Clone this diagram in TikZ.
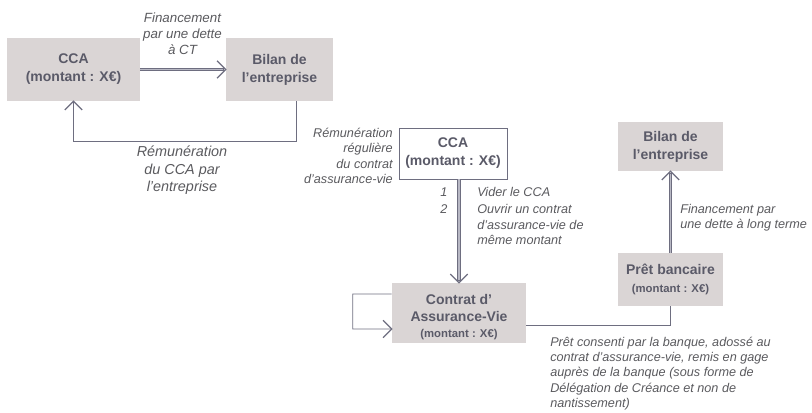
\documentclass[tikz,border=0pt]{standalone}
\usepackage{fontspec}
\setmainfont{Liberation Sans}

\definecolor{boxfill}{HTML}{DAD5D5}
\definecolor{boxtext}{HTML}{5A5A68}
\definecolor{labtext}{HTML}{5A5A5E}
\definecolor{linec}{HTML}{6E6E80}
\definecolor{linelight}{HTML}{B8B8C4}

\tikzset{
  box/.style={fill=boxfill, draw=none, text=boxtext, align=center, inner sep=0pt,
    font=\bfseries\fontsize{10.5}{13.5}\selectfont},
  whitebox/.style={box, fill=white, draw=linec, line width=0.6pt},
  lab/.style={text=labtext, inner sep=0pt, font=\itshape\fontsize{9.5}{11.5}\selectfont},
  biglab/.style={lab, font=\itshape\fontsize{10}{12}\selectfont},
  num/.style={text=labtext, inner sep=0pt, font=\itshape\fontsize{9.5}{11.5}\selectfont},
  plainline/.style={draw=linec, line width=0.6pt},
  dblshaft/.style={draw=linec, line width=2.4pt, shorten >=1pt,
    postaction={draw=linelight, line width=0.9pt, shorten >=2pt}},
  chevron/.style={draw=linec, line width=0.9pt, line join=miter}
}

\begin{document}
\begin{tikzpicture}[x=0.75pt, y=-0.75pt]
\useasboundingbox (0,0) rectangle (812,412);

% upper-left loop: current account and company balance sheet
\node[box, minimum width=99.75pt, minimum height=47.25pt] (cca1) at (73.5,69.5)
  {CCA\\(montant : X€)};
\node[box, minimum width=80.25pt, minimum height=47.25pt] (bilan1) at (279.5,69.5)
  {Bilan de\\l’entreprise};

\draw[dblshaft] (cca1.east) -- (bilan1.west);
\draw[chevron] ([shift={(-6.5pt,6.5pt)}]bilan1.west) -- (bilan1.west) -- ([shift={(-6.5pt,-6.5pt)}]bilan1.west);
\node[biglab, align=center] (fin1) at (182.5,34) {Financement\\par une dette\\à CT};

\draw[plainline] ([xshift=12.4pt]bilan1.south) -- ++(0,40) -| (cca1.south);
\draw[chevron] ([shift={(-6.5pt,-6.5pt)}]cca1.south) -- (cca1.south) -- ([shift={(6.5pt,-6.5pt)}]cca1.south);
\node[lab, align=center, font=\itshape\fontsize{10.8}{13.2}\selectfont] (rem1) at (182,170.5)
  {Rémunération\\du CCA par\\l’entreprise};

% right part: life insurance contract and bank loan
\node[whitebox, minimum width=81pt, minimum height=38.25pt] (cca2) at (453,153.5)
  {CCA\\(montant : X€)};
\node[lab, align=right, anchor=east] (rem2) at (393,156)
  {Rémunération\\régulière\\du contrat\\d’assurance-vie};

\node[box, minimum width=100.5pt, minimum height=45pt,
  font=\bfseries\fontsize{10.5}{12.5}\selectfont] (contrat) at (459,313)
  {\rule{0pt}{14pt}Contrat d’\\Assurance-Vie\\{\fontsize{8.5}{11}\selectfont(montant : X€)}};

\draw[dblshaft] (contrat.north |- cca2.south) -- (contrat.north);
\draw[chevron] ([shift={(-6.5pt,6.5pt)}]contrat.north) -- (contrat.north) -- ([shift={(6.5pt,6.5pt)}]contrat.north);
\node[num] (n1) at (444,192) {1};
\node[num] (n2) at (444,209) {2};
\node[lab, anchor=west] (vider) at (477,192) {Vider le CCA};
\node[lab, anchor=west, align=left] (ouvrir) at (477,224.5)
  {Ouvrir un contrat\\d’assurance-vie de\\même montant};

% self loop on the contract
\coordinate (loopin) at ([yshift=-11.99pt]contrat.west);
\draw[plainline] ([yshift=14.25pt]contrat.west) -- ++(-39,0) -- ++(0,35) -- (loopin);
\draw[chevron] ([shift={(-6.5pt,6.5pt)}]loopin) -- (loopin) -- ([shift={(-6.5pt,-6.5pt)}]loopin);

\node[box, minimum width=78.75pt, minimum height=36.75pt] (bilan2) at (670.5,146.5)
  {Bilan de\\l’entreprise};
\node[box, minimum width=78.75pt, minimum height=39.75pt] (pret) at (670.5,279.5)
  {Prêt bancaire\\{\fontsize{8.5}{11}\selectfont(montant : X€)}};

\draw[dblshaft] (pret.north) -- (bilan2.south);
\draw[chevron] ([shift={(-6.5pt,-6.5pt)}]bilan2.south) -- (bilan2.south) -- ([shift={(6.5pt,-6.5pt)}]bilan2.south);
\node[lab, anchor=west, align=left] (fin2) at (680,217.5)
  {Financement par\\une dette à long terme};

\draw[plainline] ([yshift=-9pt]contrat.east) -| (pret.south);
\node[lab, anchor=west, align=left] (pretlab) at (550,373.5)
  {Prêt consenti par la banque, adossé au\\contrat d’assurance-vie, remis en gage\\auprès de la banque (sous forme de\\Délégation de Créance et non de\\nantissement)};
\end{tikzpicture}
\end{document}
